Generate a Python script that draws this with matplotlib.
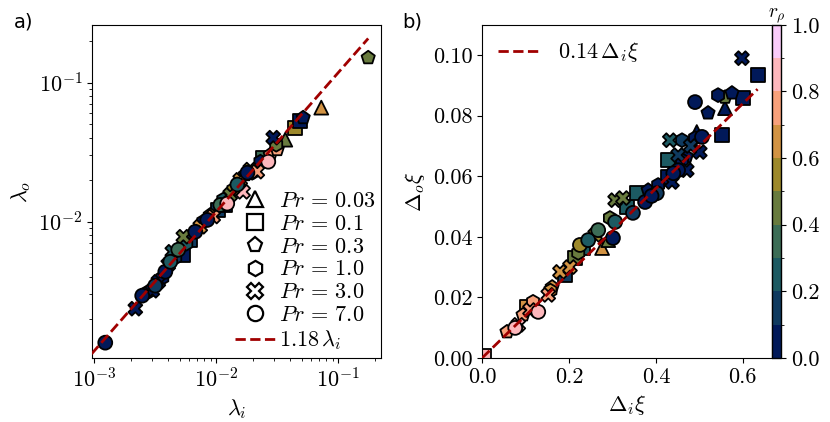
import numpy as np
import matplotlib
matplotlib.use("Agg")
import matplotlib.pyplot as plt
from matplotlib.colors import ListedColormap, BoundaryNorm
from matplotlib.lines import Line2D
from matplotlib.cm import ScalarMappable

plt.rcParams['mathtext.fontset'] = 'cm'
plt.rcParams['font.family'] = 'serif'
plt.rcParams['font.serif'] = ['cmr10']
plt.rcParams['axes.formatter.use_mathtext'] = True
plt.rcParams['font.size'] = 16

# Pr values and their markers
pr_values = [0.03, 0.1, 0.3, 1.0, 3.0, 7.0]
pr_markers = ['^', 's', 'p', 'h', 'X', 'o']

# panel a) : lambda_i, lambda_o, Pr index, r_rho
lam_i = [1.23e-3, 2.17e-3, 2.47e-3, 2.77e-3, 2.99e-3, 3.16e-3, 3.35e-3, 3.61e-3, 3.82e-3, 4.04e-3,
         4.20e-3, 4.36e-3, 4.61e-3, 4.88e-3, 5.37e-3, 5.37e-3, 5.68e-3, 6.12e-3, 6.73e-3, 7.39e-3,
         7.82e-3, 8.44e-3, 8.93e-3, 9.44e-3, 1.04e-2, 1.08e-2, 1.14e-2, 1.19e-2, 1.23e-2, 1.30e-2,
         1.38e-2, 1.49e-2, 1.57e-2, 1.66e-2, 1.73e-2, 1.80e-2, 1.90e-2, 1.97e-2, 2.17e-2, 2.30e-2,
         2.67e-2, 2.43e-2, 2.77e-2, 2.93e-2, 3.10e-2, 3.16e-2, 3.68e-2, 4.44e-2, 5.16e-2, 4.88e-2,
         7.26e-2, 0.176]
lam_o = [1.35e-3, 2.37e-3, 2.94e-3, 3.13e-3, 3.19e-3, 3.47e-3, 3.70e-3, 3.95e-3, 4.37e-3, 4.91e-3,
         5.15e-3, 6.08e-3, 5.51e-3, 6.29e-3, 7.80e-3, 5.79e-3, 6.95e-3, 7.43e-3, 8.47e-3, 9.20e-3,
         1.00e-2, 1.03e-2, 1.12e-2, 1.09e-2, 1.22e-2, 1.32e-2, 1.44e-2, 1.32e-2, 1.35e-2, 1.56e-2,
         1.70e-2, 1.85e-2, 2.00e-2, 1.64e-2, 2.18e-2, 2.25e-2, 2.37e-2, 2.25e-2, 2.29e-2, 2.70e-2,
         2.70e-2, 2.89e-2, 3.03e-2, 4.02e-2, 3.58e-2, 3.30e-2, 3.89e-2, 4.75e-2, 5.60e-2, 5.33e-2,
         6.61e-2, 0.151]
lam_pr = [5, 4, 5, 3, 4, 5, 4, 3, 5, 4,
          5, 4, 3, 5, 4, 1, 3, 1, 5, 4,
          3, 5, 2, 4, 1, 5, 3, 1, 5, 4,
          3, 5, 4, 4, 2, 5, 4, 3, 4, 3,
          5, 1, 2, 4, 3, 2, 0, 1, 2, 1,
          0, 2]
lam_r = [0.05, 0.05, 0.05, 0.05, 0.05, 0.15, 0.05, 0.05, 0.05, 0.15,
         0.25, 0.25, 0.15, 0.35, 0.45, 0.05, 0.25, 0.15, 0.05, 0.65,
         0.05, 0.05, 0.55, 0.75, 0.15, 0.35, 0.25, 0.05, 0.85, 0.45,
         0.55, 0.25, 0.65, 0.85, 0.15, 0.05, 0.55, 0.45, 0.75, 0.05,
         0.85, 0.35, 0.75, 0.05, 0.45, 0.75, 0.45, 0.55, 0.05, 0.05,
         0.65, 0.45]

# panel b) : Delta_i xi, Delta_o xi, Pr index, r_rho
d_i = [0.004, 0.057, 0.076, 0.083, 0.094, 0.103, 0.110, 0.117, 0.129, 0.152,
       0.157, 0.161, 0.179, 0.191, 0.202, 0.214, 0.221, 0.225, 0.232, 0.244,
       0.260, 0.267, 0.276, 0.290, 0.301, 0.294, 0.306, 0.306, 0.324, 0.333,
       0.347, 0.356, 0.375, 0.382, 0.402, 0.405, 0.428, 0.437, 0.428, 0.451,
       0.460, 0.471, 0.451, 0.432, 0.460, 0.490, 0.506, 0.501, 0.494, 0.552,
       0.490, 0.520, 0.543, 0.559, 0.575, 0.559, 0.600, 0.598, 0.634, 0.390,
       0.440, 0.470, 0.480]
d_o = [0.0006, 0.0086, 0.0099, 0.0109, 0.0142, 0.0168, 0.0158, 0.0185, 0.0152, 0.0208,
       0.0222, 0.0234, 0.0284, 0.0274, 0.0300, 0.0330, 0.0347, 0.0373, 0.0363, 0.0389,
       0.0406, 0.0422, 0.0363, 0.0389, 0.0396, 0.0462, 0.0449, 0.0521, 0.0528, 0.0498,
       0.0479, 0.0544, 0.0515, 0.0554, 0.0544, 0.0571, 0.0597, 0.0581, 0.0653, 0.0670,
       0.0653, 0.0620, 0.0620, 0.0719, 0.0719, 0.0726, 0.0730, 0.0680, 0.0746, 0.0736,
       0.0845, 0.0809, 0.0868, 0.0861, 0.0875, 0.0825, 0.0858, 0.0990, 0.0934, 0.0535,
       0.0610, 0.0665, 0.0700]
d_pr = [1, 2, 5, 4, 2, 1, 4, 3, 5, 4,
        3, 2, 4, 1, 4, 1, 3, 5, 1, 5,
        4, 5, 0, 0, 5, 3, 5, 4, 4, 1,
        5, 1, 5, 2, 5, 3, 1, 4, 1, 4,
        3, 4, 5, 4, 3, 3, 5, 4, 0, 1,
        5, 2, 3, 2, 2, 0, 1, 4, 1, 5,
        5, 2, 4]
d_r = [0.85, 0.75, 0.85, 0.85, 0.75, 0.65, 0.75, 0.75, 0.85, 0.75,
       0.65, 0.65, 0.65, 0.15, 0.65, 0.45, 0.45, 0.55, 0.25, 0.25,
       0.55, 0.35, 0.65, 0.45, 0.05, 0.45, 0.25, 0.45, 0.45, 0.25,
       0.15, 0.25, 0.05, 0.05, 0.15, 0.05, 0.05, 0.05, 0.25, 0.15,
       0.05, 0.05, 0.05, 0.25, 0.15, 0.05, 0.05, 0.05, 0.05, 0.05,
       0.05, 0.05, 0.05, 0.45, 0.05, 0.05, 0.05, 0.05, 0.05, 0.05,
       0.05, 0.05, 0.15]

fit_a = 1.18
fit_b = 0.14

# discrete batlow-like colormap, 10 levels
batlow10 = ['#011959', '#0f3a5f', '#1c5a62', '#3c6d56', '#687b3e',
            '#9d892b', '#d29343', '#f8a17b', '#fdb7bc', '#faccfa']
cmap = ListedColormap(batlow10)
norm = BoundaryNorm(np.linspace(0, 1, 11), cmap.N)

fig = plt.figure(figsize=(8.3, 4.22), dpi=100)
ax1 = fig.add_axes([0.111, 0.152, 0.348, 0.789])
ax2 = fig.add_axes([0.581, 0.152, 0.349, 0.789])
cax = fig.add_axes([0.930, 0.152, 0.011, 0.789])

line_col = '#a00000'
msize = 100

# --- panel a
lam_i = np.array(lam_i); lam_o = np.array(lam_o)
lam_pr = np.array(lam_pr); lam_r = np.array(lam_r)
for k, m in enumerate(pr_markers):
    sel = lam_pr == k
    ax1.scatter(lam_i[sel], lam_o[sel], c=lam_r[sel], cmap=cmap, norm=norm,
                marker=m, s=msize, edgecolors='black', linewidths=1.3, zorder=2)
xf = np.logspace(np.log10(0.95e-3), np.log10(0.176), 50)
ax1.plot(xf, fit_a * xf, '--', color=line_col, lw=2, zorder=3)
ax1.set_xscale('log')
ax1.set_yscale('log')
ax1.set_xlim(0.96e-3, 0.224)
ax1.set_ylim(1.05e-3, 0.26)
ax1.set_xlabel(r'$\lambda_i$')
ax1.set_ylabel(r'$\lambda_o$')

handles = [Line2D([], [], marker=m, ls='none', mfc='white', mec='black', mew=1.6, ms=11)
           for m in pr_markers]
labels = [r'$Pr\,=\,%s$' % p for p in ['0.03', '0.1', '0.3', '1.0', '3.0', '7.0']]
handles.append(Line2D([], [], ls='--', color=line_col, lw=2))
labels.append(r'$1.18\,\lambda_i$')
ax1.legend(handles, labels, loc='lower right', frameon=False, handlelength=1.8,
           handletextpad=0.2, labelspacing=0.15, borderaxespad=0.0, borderpad=0.25)

# --- panel b
d_i = np.array(d_i); d_o = np.array(d_o)
d_pr = np.array(d_pr); d_r = np.array(d_r)
for k, m in enumerate(pr_markers):
    sel = d_pr == k
    ax2.scatter(d_i[sel], d_o[sel], c=d_r[sel], cmap=cmap, norm=norm,
                marker=m, s=msize, edgecolors='black', linewidths=1.3, zorder=2)
xl = np.linspace(0, 0.634, 20)
ax2.plot(xl, fit_b * xl, '--', color=line_col, lw=2, zorder=3,
         label=r'$0.14\,\Delta_i\xi$')
ax2.set_xlim(0, 0.667)
ax2.set_ylim(0, 0.11)
ax2.set_xticks([0.0, 0.2, 0.4, 0.6])
ax2.set_xticklabels(['0.0', '0.2', '0.4', '0.6'])
ax2.set_yticks([0.0, 0.02, 0.04, 0.06, 0.08, 0.10])
ax2.set_yticklabels(['0.00', '0.02', '0.04', '0.06', '0.08', '0.10'])
ax2.set_xlabel(r'$\Delta_i\xi$')
ax2.set_ylabel(r'$\Delta_o\xi$')
ax2.legend(loc='upper left', frameon=False, borderaxespad=0.3, handletextpad=0.7)

cb = fig.colorbar(ScalarMappable(norm=norm, cmap=cmap), cax=cax)
cb.set_ticks([0.0, 0.2, 0.4, 0.6, 0.8, 1.0])
cb.set_ticklabels(['0.0', '0.2', '0.4', '0.6', '0.8', '1.0'])
cb.ax.yaxis.set_ticks(np.linspace(0.1, 0.9, 5), minor=True)
cb.outline.set_linewidth(1)
cax.set_title(r'$r_\rho$', fontsize=14, pad=2)

fig.text(0.017, 0.935, 'a)', family='DejaVu Sans', fontsize=14)
fig.text(0.485, 0.935, 'b)', family='DejaVu Sans', fontsize=14)

plt.savefig('out.png', dpi=100)
